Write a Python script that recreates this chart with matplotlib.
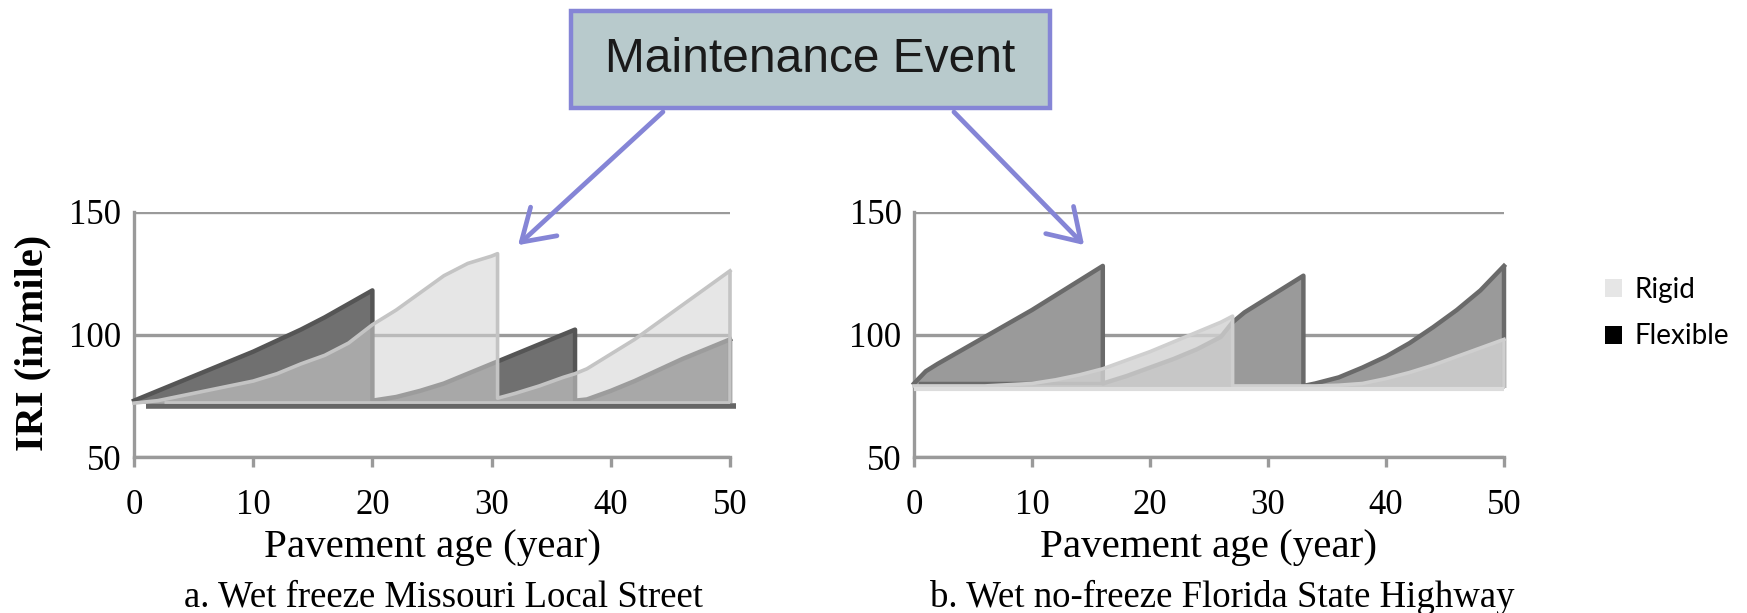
import matplotlib.pyplot as plt
from matplotlib.patches import Rectangle, FancyArrowPatch, Patch

W, H = 1747, 613

# IRI histories (in/mile) against pavement age (years); repeated ages are maintenance resets
mo_flex_age = [0, 2, 4, 6, 8, 10, 12, 14, 16, 18, 20,
               20, 22, 24, 26, 28, 30, 32, 34, 36, 37,
               37, 38, 40, 42, 44, 46, 48, 50]
mo_flex_iri = [73, 77, 81, 85, 89, 93, 97.5, 102, 107, 112.5, 118,
               73, 74.5, 77, 80, 84, 88, 92, 96, 100, 102,
               73, 73.5, 77, 81, 85.5, 90, 94, 98]
mo_rigid_age = [0, 2, 4, 6, 8, 10, 12, 14, 16, 18, 20, 22, 24, 26, 28, 30, 30.5,
                30.5, 32, 34, 36, 37, 38, 40, 42, 44, 46, 48, 50]
mo_rigid_iri = [72, 73, 75, 77, 79, 81, 84, 88, 91.5, 96.5, 104, 110, 117, 124, 129, 132, 133,
                74, 76, 79, 82.5, 84, 86, 92, 98, 105, 112, 119, 126]

fl_flex_age = [0, 1, 2, 4, 6, 8, 10, 12, 14, 16,
               16, 18, 20, 22, 24, 26, 27, 28, 30, 32, 33,
               33, 34, 36, 38, 40, 42, 44, 46, 48, 50]
fl_flex_iri = [80, 85, 88, 93.5, 99, 104.5, 110, 116, 122, 128,
               80, 83, 86.5, 90, 94, 99, 105, 109, 115, 121, 124,
               79, 80, 82.5, 86.5, 91, 96.5, 103, 110, 118, 128]
fl_rigid_age = [0, 2, 4, 6, 8, 10, 12, 14, 16, 18, 20, 22, 24, 26, 27,
                27, 30, 33, 34, 36, 38, 40, 42, 44, 46, 48, 50]
fl_rigid_iri = [79, 79, 79, 79, 79.5, 80, 81.5, 83.5, 86, 89.5, 93, 97, 101, 105, 107.5,
                79, 79, 79, 79, 79.3, 80, 82, 84.5, 87.5, 91, 94.5, 98]

x_ticks = [0, 10, 20, 30, 40, 50]
y_ticks = [50, 100, 150]
captions = ["a. Wet freeze Missouri Local Street", "b. Wet no-freeze Florida State Highway"]
legend_labels = ["Rigid", "Flexible"]

serif = "Liberation Serif"
axis_gray = "#9a9a9a"

fig = plt.figure(figsize=(W / 100, H / 100), dpi=100)
ax1 = fig.add_axes([134 / W, 1 - 457 / H, 596 / W, 245 / H])
ax2 = fig.add_axes([914 / W, 1 - 457 / H, 590 / W, 245 / H])

panels = [
    (ax1, mo_flex_age, mo_flex_iri, mo_rigid_age, mo_rigid_iri, 72,
     "#707070", "#555555", "#d3d3d3", 0.57, "#c4c4c4"),
    (ax2, fl_flex_age, fl_flex_iri, fl_rigid_age, fl_rigid_iri, 78,
     "#9a9a9a", "#6a6a6a", "#d2d2d2", 0.82, "#cfcfcf"),
]

for ax, fa, fv, ra, rv, base, fcol, fedge, rcol, ralpha, redge in panels:
    ax.set_xlim(0, 50)
    ax.set_ylim(50, 150)
    ax.set_axisbelow(True)
    ax.yaxis.grid(True, color=axis_gray, lw=2.4)
    for s in ["top", "right"]:
        ax.spines[s].set_visible(False)
    for s in ["left", "bottom"]:
        ax.spines[s].set_color(axis_gray)
        ax.spines[s].set_linewidth(2.4)
    ax.set_xticks(x_ticks)
    ax.set_yticks(y_ticks)
    ax.tick_params(axis="x", length=7, width=2.4, color=axis_gray, pad=16,
                   labelsize=25)
    ax.tick_params(axis="y", length=0, pad=9, labelsize=25)
    for lab in ax.get_xticklabels() + ax.get_yticklabels():
        lab.set_fontfamily(serif)

    # flexible series sits behind, rigid series in front with some transparency
    ax.fill_between(fa, base, fv, color=fcol, lw=0, zorder=2)
    ax.plot(fa, fv, color=fedge, lw=3.2, zorder=3, clip_on=False)
    ax.vlines(fa[-1], base, fv[-1], color=fedge, lw=3.2, zorder=3, clip_on=False)
    ax.fill_between(ra, base, rv, color=rcol, alpha=ralpha, lw=0, zorder=4)
    ax.plot(ra, rv, color=redge, lw=2.6, zorder=5, clip_on=False)
    ax.vlines(ra[-1], base, rv[-1], color=redge, lw=2.6, zorder=5, clip_on=False)

# floor edges of the two area series
ax1.plot([1, 50.5], [71, 71], color="#666666", lw=4, zorder=1, clip_on=False,
         solid_capstyle="butt")
ax1.plot([2.5, 50], [72.6, 72.6], color="#c4c4c4", lw=2, zorder=6, solid_capstyle="butt")
ax2.plot([0.5, 16], [80.3, 80.3], color="#6a6a6a", lw=2.5, zorder=3)
ax2.plot([0, 50], [77.6, 77.6], color="#dcdcdc", lw=3, zorder=6, clip_on=False,
         solid_capstyle="butt")

# axis labels and captions
fig.text(33 / W, 1 - 343 / H, "IRI (in/mile)", rotation=90, ha="center", va="center",
         fontsize=29, fontweight="bold", family=serif)
for ax, cap, cx in [(ax1, captions[0], 444), (ax2, captions[1], 1222)]:
    pos = ax.get_position()
    fig.text((pos.x0 + pos.x1) / 2, 1 - 548 / H, "Pavement age (year)", ha="center",
             va="center", fontsize=29.5, family=serif)
    fig.text(cx / W, 1 - 597 / H, cap, ha="center", va="center", fontsize=26.5, family=serif)

# legend
handles = [Patch(facecolor="#e6e6e6", edgecolor="none"),
           Patch(facecolor="black", edgecolor="none")]
fig.legend(handles, legend_labels, loc="center left",
           bbox_to_anchor=(1580 / W, 1 - 313 / H), frameon=False,
           handlelength=0.62, handleheight=0.62, handletextpad=0.45,
           labelspacing=0.75, prop={"family": "Lato", "size": 20})

# maintenance event callout
box_edge = "#8585d6"
fig.add_artist(Rectangle((571 / W, 1 - 108 / H), 479 / W, 97 / H, transform=fig.transFigure,
                         facecolor="#b8cacc", edgecolor=box_edge, lw=3.2, zorder=10))
fig.text(810 / W, 1 - 59 / H, "Maintenance Event", ha="center", va="center",
         fontsize=34.5, family="Liberation Sans", color="#1a1a1a", zorder=11)
for start, end in [((665, 110), (516, 247)), ((952, 110), (1086, 247))]:
    fig.add_artist(FancyArrowPatch((start[0] / W, 1 - start[1] / H), (end[0] / W, 1 - end[1] / H),
                                   transform=fig.transFigure, color=box_edge, lw=3.4,
                                   arrowstyle="->,head_length=1.1,head_width=0.7",
                                   mutation_scale=20, zorder=9))

fig.savefig("out.png", dpi=100)
